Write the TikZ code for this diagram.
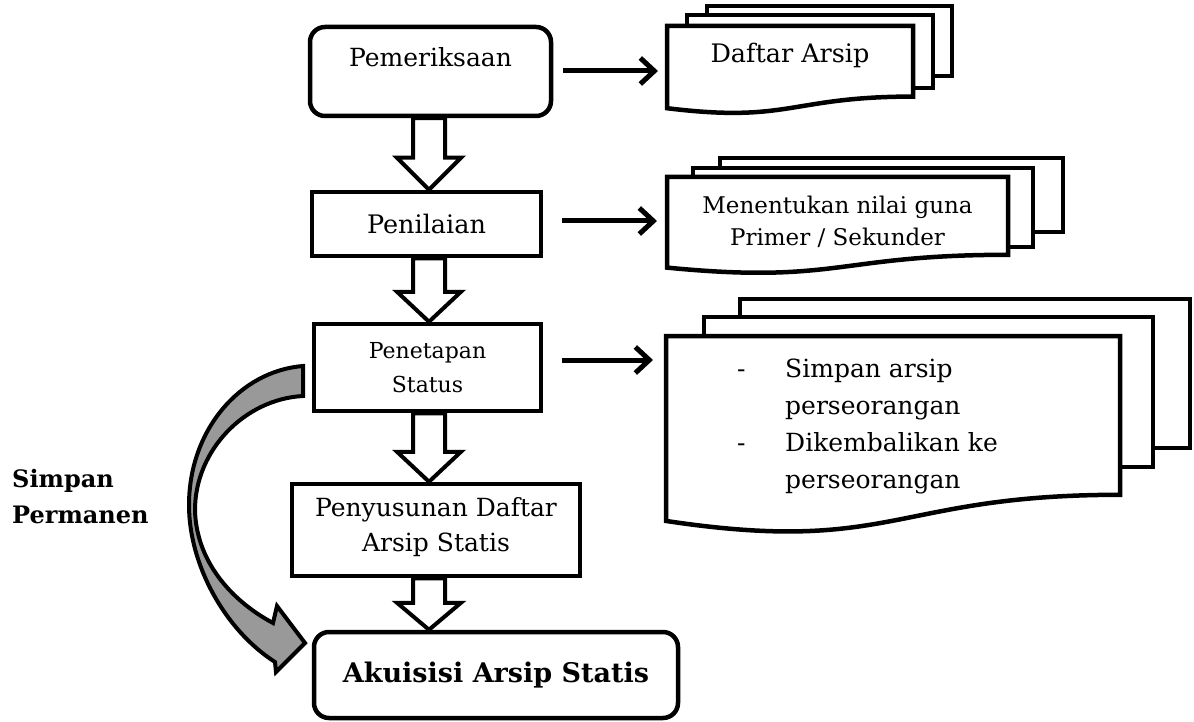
\documentclass[tikz,border=0pt]{standalone}
\usepackage{fontspec}
\setmainfont{DejaVu Serif}
\usetikzlibrary{arrows.meta,calc}
\newcommand\frontdoc[4]{%
  \draw[docline] (#1,#2) -- ({#1+#3},#2) -- ({#1+#3},{#2+0.802*#4})
    .. controls ({#1+#3/2},{#2+0.802*#4}) and ({#1+#3/2},{#2+1.107*#4}) .. (#1,{#2+0.934*#4}) -- cycle;}
\newcommand\blockarr[4]{%
  \draw[blk] let \p1=(#2.south), \p2=(#3.north) in
    (#1pt-16pt,\y1) -- (#1pt+16pt,\y1) -- (#1pt+16pt,\y2+#4pt) -- (#1pt+32pt,\y2+#4pt)
    -- (#1pt,\y2) -- (#1pt-32pt,\y2+#4pt) -- (#1pt-16pt,\y2+#4pt) -- cycle;}
\begin{document}
\begin{tikzpicture}[x=1pt,y=-1pt,
  box/.style={draw, line width=4.5pt, fill=white, inner sep=0pt, align=center},
  rbox/.style={box, rounded corners=15pt},
  docline/.style={draw, line width=4.5pt, fill=white, line join=miter},
  blk/.style={draw, line width=4pt, fill=white, line join=miter},
  harr/.style={line width=5pt, -{Straight Barb[length=14pt,width=26pt]}},
  t25/.style={font=\fontsize{25}{35}\selectfont},
  txt/.style={inner sep=0pt}]
\useasboundingbox (0,0) rectangle (1194,722);

% curved gray arrow
\draw[line width=4pt, fill=black!40, line join=miter]
  (303,366) .. controls (240,371) and (189,430) .. (189,505)
  .. controls (189,565) and (225,630) .. (275,662)
  -- (276,672) -- (305,643) -- (277,606) -- (273,623)
  .. controls (230,600) and (196,560) .. (195,510)
  .. controls (195,450) and (245,399) .. (303,396) -- cycle;

% main boxes
\node[rbox, minimum width=241pt, minimum height=89pt, t25, text height=19pt, text depth=28pt] (pem) at (430.5,71.5) {Pemeriksaan};
\node[box, minimum width=229pt, minimum height=64pt, font=\fontsize{25.5}{35}\selectfont] (pen) at (426.5,224) {Penilaian};
\node[box, minimum width=227pt, minimum height=87pt, font=\fontsize{22}{34}\selectfont] (pst) at (427.5,367.5) {Penetapan\\Status};
\node[box, minimum width=288pt, minimum height=92pt, t25, text depth=12pt] (pdy) at (436,530) {Penyusunan Daftar\\Arsip Statis};
\node[rbox, minimum width=364pt, minimum height=86pt, font=\fontsize{27}{30}\selectfont\bfseries] (aku) at (496,675) {Akuisisi Arsip Statis};

% block arrows
\blockarr{429}{pem}{pen}{32}
\blockarr{429}{pen}{pst}{30}
\blockarr{429}{pst}{pdy}{30}
\blockarr{429}{pdy}{aku}{27}

% document stacks
\draw[docline] (707,6) rectangle (952,76);
\draw[docline] (687,15) rectangle (933,88);
\frontdoc{667}{26}{246}{88}
\node[txt, anchor=base, font=\fontsize{25.5}{35}\selectfont] (daf) at (790,63) {Daftar Arsip};

\draw[docline] (720,158) rectangle (1063,232);
\draw[docline] (693,168) rectangle (1033,247);
\frontdoc{667}{177}{341}{97}
\node[txt, anchor=north, align=center, font=\fontsize{23}{32}\selectfont] (men) at (837.5,196) {Menentukan nilai guna\\Primer / Sekunder};

\draw[docline] (740,299) rectangle (1190,448);
\draw[docline] (704,317) rectangle (1153,467);
\frontdoc{666}{336}{454}{198}
\node[txt, anchor=north west, align=left, font=\fontsize{25}{37}\selectfont] (sim) at (737,359)
  {\makebox[48pt][l]{-}Simpan arsip\\\hspace*{48pt}perseorangan\\\makebox[48pt][l]{-}Dikembalikan ke\\\hspace*{48pt}perseorangan};

% horizontal arrows
\coordinate (dafin) at (658,71);
\coordinate (menin) at (657,221);
\coordinate (simin) at (653,360);
\draw[harr, shorten <=10pt] (pem.east |- dafin) -- (dafin);
\draw[harr, shorten <=19pt] (pen.east |- menin) -- (menin);
\draw[harr, shorten <=19pt] (pst.east |- simin) -- (simin);

% side label
\node[txt, anchor=north west, align=left, font=\fontsize{24}{36}\selectfont\bfseries] (sp) at (12,469) {Simpan\\Permanen};
\end{tikzpicture}
\end{document}
